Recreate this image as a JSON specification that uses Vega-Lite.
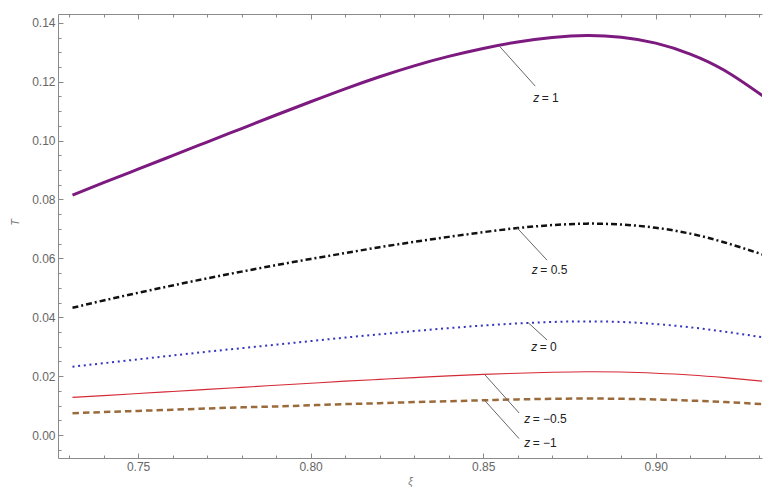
{
  "$schema": "https://vega.github.io/schema/vega-lite/v6.json",
  "width": 704,
  "height": 444,
  "autosize": {"type": "none"},
  "padding": {"left": 58, "top": 14, "right": 1, "bottom": 29},
  "background": "white",
  "config": {
    "view": {"stroke": null},
    "font": "Liberation Sans",
    "axis": {
      "domainColor": "#8a8a8a",
      "tickColor": "#8a8a8a",
      "labelColor": "#666666",
      "labelFont": "Liberation Sans",
      "labelFontSize": 12,
      "titleColor": "#777777",
      "titleFont": "Liberation Sans",
      "titleFontWeight": "normal",
      "titleFontStyle": "italic",
      "grid": false,
      "labelOverlap": false,
      "labelFlush": false,
      "labelBound": false
    }
  },
  "datasets": {
    "curves": [
      {"xi": 0.731, "T": 0.0815, "z": "1"}, {"xi": 0.74, "T": 0.0857, "z": "1"}, {"xi": 0.75, "T": 0.0903, "z": "1"}, {"xi": 0.76, "T": 0.0949, "z": "1"}, {"xi": 0.77, "T": 0.0995, "z": "1"}, {"xi": 0.78, "T": 0.1041, "z": "1"}, {"xi": 0.79, "T": 0.1087, "z": "1"}, {"xi": 0.80, "T": 0.1132, "z": "1"}, {"xi": 0.81, "T": 0.1176, "z": "1"}, {"xi": 0.82, "T": 0.1217, "z": "1"}, {"xi": 0.83, "T": 0.1254, "z": "1"}, {"xi": 0.84, "T": 0.1286, "z": "1"}, {"xi": 0.85, "T": 0.1313, "z": "1"}, {"xi": 0.86, "T": 0.1335, "z": "1"}, {"xi": 0.87, "T": 0.1350, "z": "1"}, {"xi": 0.88, "T": 0.1357, "z": "1"}, {"xi": 0.89, "T": 0.1351, "z": "1"}, {"xi": 0.90, "T": 0.1331, "z": "1"}, {"xi": 0.91, "T": 0.1294, "z": "1"}, {"xi": 0.92, "T": 0.1238, "z": "1"}, {"xi": 0.931, "T": 0.1152, "z": "1"},
      {"xi": 0.731, "T": 0.0432, "z": "0.5"}, {"xi": 0.74, "T": 0.0457, "z": "0.5"}, {"xi": 0.75, "T": 0.0483, "z": "0.5"}, {"xi": 0.76, "T": 0.0508, "z": "0.5"}, {"xi": 0.77, "T": 0.0532, "z": "0.5"}, {"xi": 0.78, "T": 0.0555, "z": "0.5"}, {"xi": 0.79, "T": 0.0577, "z": "0.5"}, {"xi": 0.80, "T": 0.0598, "z": "0.5"}, {"xi": 0.81, "T": 0.0618, "z": "0.5"}, {"xi": 0.82, "T": 0.0638, "z": "0.5"}, {"xi": 0.83, "T": 0.0656, "z": "0.5"}, {"xi": 0.84, "T": 0.0673, "z": "0.5"}, {"xi": 0.85, "T": 0.0689, "z": "0.5"}, {"xi": 0.86, "T": 0.0703, "z": "0.5"}, {"xi": 0.87, "T": 0.0713, "z": "0.5"}, {"xi": 0.88, "T": 0.0718, "z": "0.5"}, {"xi": 0.89, "T": 0.0715, "z": "0.5"}, {"xi": 0.90, "T": 0.0704, "z": "0.5"}, {"xi": 0.91, "T": 0.0684, "z": "0.5"}, {"xi": 0.92, "T": 0.0654, "z": "0.5"}, {"xi": 0.931, "T": 0.0613, "z": "0.5"},
      {"xi": 0.731, "T": 0.0232, "z": "0"}, {"xi": 0.74, "T": 0.0244, "z": "0"}, {"xi": 0.75, "T": 0.0257, "z": "0"}, {"xi": 0.76, "T": 0.0270, "z": "0"}, {"xi": 0.77, "T": 0.0283, "z": "0"}, {"xi": 0.78, "T": 0.0295, "z": "0"}, {"xi": 0.79, "T": 0.0307, "z": "0"}, {"xi": 0.80, "T": 0.0319, "z": "0"}, {"xi": 0.81, "T": 0.0331, "z": "0"}, {"xi": 0.82, "T": 0.0342, "z": "0"}, {"xi": 0.83, "T": 0.0353, "z": "0"}, {"xi": 0.84, "T": 0.0363, "z": "0"}, {"xi": 0.85, "T": 0.0372, "z": "0"}, {"xi": 0.86, "T": 0.0379, "z": "0"}, {"xi": 0.87, "T": 0.0384, "z": "0"}, {"xi": 0.88, "T": 0.0386, "z": "0"}, {"xi": 0.89, "T": 0.0384, "z": "0"}, {"xi": 0.90, "T": 0.0377, "z": "0"}, {"xi": 0.91, "T": 0.0366, "z": "0"}, {"xi": 0.92, "T": 0.0351, "z": "0"}, {"xi": 0.931, "T": 0.0332, "z": "0"},
      {"xi": 0.731, "T": 0.0128, "z": "-0.5"}, {"xi": 0.74, "T": 0.0134, "z": "-0.5"}, {"xi": 0.75, "T": 0.0141, "z": "-0.5"}, {"xi": 0.76, "T": 0.0148, "z": "-0.5"}, {"xi": 0.77, "T": 0.0155, "z": "-0.5"}, {"xi": 0.78, "T": 0.0162, "z": "-0.5"}, {"xi": 0.79, "T": 0.0169, "z": "-0.5"}, {"xi": 0.80, "T": 0.0176, "z": "-0.5"}, {"xi": 0.81, "T": 0.0183, "z": "-0.5"}, {"xi": 0.82, "T": 0.0189, "z": "-0.5"}, {"xi": 0.83, "T": 0.0195, "z": "-0.5"}, {"xi": 0.84, "T": 0.0201, "z": "-0.5"}, {"xi": 0.85, "T": 0.0206, "z": "-0.5"}, {"xi": 0.86, "T": 0.0210, "z": "-0.5"}, {"xi": 0.87, "T": 0.0213, "z": "-0.5"}, {"xi": 0.88, "T": 0.0215, "z": "-0.5"}, {"xi": 0.89, "T": 0.0214, "z": "-0.5"}, {"xi": 0.90, "T": 0.0210, "z": "-0.5"}, {"xi": 0.91, "T": 0.0204, "z": "-0.5"}, {"xi": 0.92, "T": 0.0195, "z": "-0.5"}, {"xi": 0.931, "T": 0.0183, "z": "-0.5"},
      {"xi": 0.731, "T": 0.0074, "z": "-1"}, {"xi": 0.74, "T": 0.0078, "z": "-1"}, {"xi": 0.75, "T": 0.0082, "z": "-1"}, {"xi": 0.76, "T": 0.0086, "z": "-1"}, {"xi": 0.77, "T": 0.0090, "z": "-1"}, {"xi": 0.78, "T": 0.0094, "z": "-1"}, {"xi": 0.79, "T": 0.0097, "z": "-1"}, {"xi": 0.80, "T": 0.0101, "z": "-1"}, {"xi": 0.81, "T": 0.0105, "z": "-1"}, {"xi": 0.82, "T": 0.0108, "z": "-1"}, {"xi": 0.83, "T": 0.0112, "z": "-1"}, {"xi": 0.84, "T": 0.0115, "z": "-1"}, {"xi": 0.85, "T": 0.0118, "z": "-1"}, {"xi": 0.86, "T": 0.0121, "z": "-1"}, {"xi": 0.87, "T": 0.0123, "z": "-1"}, {"xi": 0.88, "T": 0.0124, "z": "-1"}, {"xi": 0.89, "T": 0.0123, "z": "-1"}, {"xi": 0.90, "T": 0.0121, "z": "-1"}, {"xi": 0.91, "T": 0.0117, "z": "-1"}, {"xi": 0.92, "T": 0.0112, "z": "-1"}, {"xi": 0.931, "T": 0.0105, "z": "-1"}
    ],
    "labels": [
      {"z": "1", "x0": 0.8547, "y0": 0.1321, "x1": 0.8651, "y1": 0.1185, "tx": 0.8645, "ty": 0.1144, "rest": "= 1"},
      {"z": "0.5", "x0": 0.8598, "y0": 0.0704, "x1": 0.8685, "y1": 0.0594, "tx": 0.8641, "ty": 0.0560, "rest": "= 0.5"},
      {"z": "0", "x0": 0.8631, "y0": 0.0381, "x1": 0.8685, "y1": 0.0323, "tx": 0.8639, "ty": 0.0300, "rest": "= 0"},
      {"z": "-0.5", "x0": 0.8504, "y0": 0.0206, "x1": 0.8604, "y1": 0.0075, "tx": 0.8619, "ty": 0.0053, "rest": "= −0.5"},
      {"z": "-1", "x0": 0.8504, "y0": 0.0118, "x1": 0.8604, "y1": -0.0012, "tx": 0.8619, "ty": -0.0027, "rest": "= −1"}
    ]
  },
  "resolve": {"axis": {"x": "independent", "y": "independent"}},
  "layer": [
    {
      "data": {"name": "curves"},
      "transform": [{"filter": "datum.z === '1'"}],
      "mark": {"type": "line", "clip": true, "interpolate": "natural", "color": "#7d1a80", "strokeWidth": 3},
      "encoding": {
        "x": {"field": "xi", "type": "quantitative", "scale": {"domain": [0.7268, 0.9308], "nice": false, "zero": false},
          "axis": {"orient": "bottom", "title": "ξ", "titleFontSize": 10,
            "values": [0.73, 0.74, 0.75, 0.76, 0.77, 0.78, 0.79, 0.8, 0.81, 0.82, 0.83, 0.84, 0.85, 0.86, 0.87, 0.88, 0.89, 0.9, 0.91, 0.92, 0.93],
            "labelExpr": "abs(datum.value*20-round(datum.value*20))<0.001 ? format(datum.value,'.2f') : ''",
            "tickSize": {"condition": {"test": "abs(datum.value*20-round(datum.value*20))<0.001", "value": -5}, "value": -3},
            "labelPadding": 8, "titlePadding": 2}},
        "y": {"field": "T", "type": "quantitative", "scale": {"domain": [-0.0078, 0.143], "nice": false, "zero": false},
          "axis": {"orient": "left", "title": "T", "titleFontSize": 11,
            "values": [-0.005, 0, 0.005, 0.01, 0.015, 0.02, 0.025, 0.03, 0.035, 0.04, 0.045, 0.05, 0.055, 0.06, 0.065, 0.07, 0.075, 0.08, 0.085, 0.09, 0.095, 0.1, 0.105, 0.11, 0.115, 0.12, 0.125, 0.13, 0.135, 0.14],
            "labelExpr": "abs(datum.value*50-round(datum.value*50))<0.001 ? format(datum.value,'.2f') : ''",
            "tickSize": {"condition": {"test": "abs(datum.value*50-round(datum.value*50))<0.001", "value": -5}, "value": -3},
            "labelPadding": 8, "titleX": -43, "titleY": 208, "titleAlign": "center", "titleBaseline": "middle"}},
        "order": {"field": "xi", "type": "quantitative"}
      }
    },
    {
      "data": {"name": "curves"},
      "transform": [{"filter": "datum.z === '0.5'"}],
      "mark": {"type": "line", "clip": true, "interpolate": "natural", "color": "#111111", "strokeWidth": 2.5, "strokeDash": [6, 3, 2, 3]},
      "encoding": {
        "x": {"field": "xi", "type": "quantitative", "axis": null},
        "y": {"field": "T", "type": "quantitative", "axis": null},
        "order": {"field": "xi", "type": "quantitative"}
      }
    },
    {
      "data": {"name": "curves"},
      "transform": [{"filter": "datum.z === '0'"}],
      "mark": {"type": "line", "clip": true, "interpolate": "natural", "color": "#3434c0", "strokeWidth": 2, "strokeDash": [2, 3.7]},
      "encoding": {
        "x": {"field": "xi", "type": "quantitative", "axis": null},
        "y": {"field": "T", "type": "quantitative", "axis": null},
        "order": {"field": "xi", "type": "quantitative"}
      }
    },
    {
      "data": {"name": "curves"},
      "transform": [{"filter": "datum.z === '-0.5'"}],
      "mark": {"type": "line", "clip": true, "interpolate": "natural", "color": "#d42a36", "strokeWidth": 1.1},
      "encoding": {
        "x": {"field": "xi", "type": "quantitative", "axis": null},
        "y": {"field": "T", "type": "quantitative", "axis": null},
        "order": {"field": "xi", "type": "quantitative"}
      }
    },
    {
      "data": {"name": "curves"},
      "transform": [{"filter": "datum.z === '-1'"}],
      "mark": {"type": "line", "clip": true, "interpolate": "natural", "color": "#9a6a3a", "strokeWidth": 2.5, "strokeDash": [6.5, 4]},
      "encoding": {
        "x": {"field": "xi", "type": "quantitative", "axis": null},
        "y": {"field": "T", "type": "quantitative", "axis": null},
        "order": {"field": "xi", "type": "quantitative"}
      }
    },
    {
      "data": {"name": "labels"},
      "mark": {"type": "rule", "color": "#666666", "strokeWidth": 1},
      "encoding": {
        "x": {"field": "x0", "type": "quantitative",
          "axis": {"orient": "top", "title": null, "labels": false, "domain": true,
            "values": [0.73, 0.74, 0.75, 0.76, 0.77, 0.78, 0.79, 0.8, 0.81, 0.82, 0.83, 0.84, 0.85, 0.86, 0.87, 0.88, 0.89, 0.9, 0.91, 0.92, 0.93],
            "tickSize": {"condition": {"test": "abs(datum.value*20-round(datum.value*20))<0.001", "value": -5}, "value": -3}}},
        "y": {"field": "y0", "type": "quantitative", "axis": null},
        "x2": {"field": "x1"},
        "y2": {"field": "y1"}
      }
    },
    {
      "data": {"name": "labels"},
      "mark": {"type": "text", "align": "left", "baseline": "middle", "fontSize": 12, "fontStyle": "italic", "color": "#222222", "font": "Liberation Sans"},
      "encoding": {
        "x": {"field": "tx", "type": "quantitative", "axis": null},
        "y": {"field": "ty", "type": "quantitative", "axis": null},
        "text": {"value": "z"}
      }
    },
    {
      "data": {"name": "labels"},
      "mark": {"type": "text", "align": "left", "baseline": "middle", "fontSize": 12, "dx": 8.5, "color": "#222222", "font": "Liberation Sans"},
      "encoding": {
        "x": {"field": "tx", "type": "quantitative", "axis": null},
        "y": {"field": "ty", "type": "quantitative", "axis": null},
        "text": {"field": "rest"}
      }
    }
  ]
}
